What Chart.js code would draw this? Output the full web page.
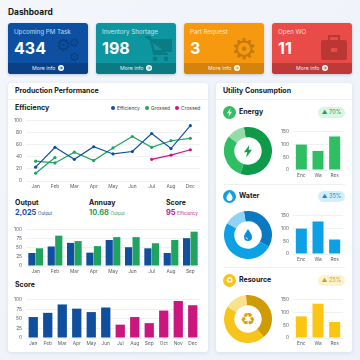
<!DOCTYPE html>
<html>
<head>
<meta charset="utf-8">
<script src="https://cdn.jsdelivr.net/npm/chart.js@4"></script>
<style>
    html, body { margin: 0; padding: 0; }
    body { width: 360px; height: 360px; overflow: hidden; position: relative; background: linear-gradient(135deg, #f3f6fb, #edf1f9); font-family: Inter, "Noto Sans", sans-serif; color: #15171c; }
    .abs, canvas { position: absolute; }
    .title { left: 8px; top: 6px; font-size: 8.4px; font-weight: 700; line-height: 12px; }
    .kpi { position: absolute; top: 23px; width: 80px; height: 51px; border-radius: 3px; overflow: hidden; color: #fff; box-shadow: 0 1px 3px rgba(40, 60, 90, .25); }
    .kpi .name { position: absolute; left: 6px; top: 4px; font-size: 6.2px; line-height: 10px; opacity: .75; white-space: nowrap; }
    .kpi .num { position: absolute; left: 6px; top: 15px; font-size: 16px; font-weight: 700; line-height: 20px; }
    .kpi .foot { position: absolute; left: 0; right: 0; bottom: 0; height: 11px; font-size: 5.2px; line-height: 11px; text-align: center; color: #e8eef4; }
    .kpi .foot svg { vertical-align: -1px; margin-left: 1px; }
    .kpi .icon { position: absolute; right: 4px; top: 11px; width: 28px; height: 28px; }
    .panel { position: absolute; top: 83px; height: 269px; background: #fff; border-radius: 3px; box-shadow: 0 1px 4px rgba(60, 80, 120, .12); }
    .head { position: absolute; left: 0; right: 0; top: 0; height: 16px; border-bottom: 1px solid #eef0f3; font-size: 7px; font-weight: 700; line-height: 16px; padding-left: 7px; }
    .label { position: absolute; font-weight: 700; font-size: 7px; line-height: 10px; white-space: nowrap; }
    .small { font-size: 4.4px; font-weight: 400; }
    .legend { position: absolute; left: 106px; top: 104px; font-size: 4.9px; line-height: 8px; color: #444; white-space: nowrap; }
    .legend i { display: inline-block; width: 4px; height: 4px; border-radius: 50%; margin: 0 2px 0 5px; vertical-align: 0; }
    .badge { position: absolute; left: 318px; width: 27px; height: 11px; border-radius: 6px; font-size: 5.6px; line-height: 11px; text-align: center; }
    .dot { position: absolute; left: 223px; width: 13px; height: 13px; border-radius: 50%; }
    .sep { position: absolute; left: 224px; width: 121px; height: 1px; background: #edf0f3; }
</style>
</head>
<body>
<div class="abs title">Dashboard</div>

<div class="kpi" style="left:8px;background:#0d50a2">
    <div class="name">Upcoming PM Task</div><div class="num">434</div>
    <svg class="icon" viewBox="0 0 28 28"><text x="0" y="17" font-size="17" fill="#0a3f80" font-family="DejaVu Sans">⚙</text><text x="13" y="13" font-size="12" fill="#0a3f80" font-family="DejaVu Sans">⚙</text><text x="13" y="27" font-size="12" fill="#0a3f80" font-family="DejaVu Sans">⚙</text></svg>
    <div class="foot" style="background:#0a4086">More info <svg width="6" height="6" viewBox="0 0 12 12"><circle cx="6" cy="6" r="6" fill="#fff"/><path d="M3 6h5M6 3l3 3-3 3" stroke="#0a4086" stroke-width="1.6" fill="none"/></svg></div>
</div>
<div class="kpi" style="left:96px;background:#0e96a0">
    <div class="name">Inventory Shortage</div><div class="num">198</div>
    <svg class="icon" viewBox="0 0 28 28"><path d="M1 3h5l4 17h14M7 6h20v11H10z" fill="#0a7c84" stroke="#0a7c84" stroke-width="2"/><circle cx="11" cy="25" r="2.4" fill="#0a7c84"/><circle cx="22" cy="25" r="2.4" fill="#0a7c84"/></svg>
    <div class="foot" style="background:#0b7a83">More info <svg width="6" height="6" viewBox="0 0 12 12"><circle cx="6" cy="6" r="6" fill="#fff"/><path d="M3 6h5M6 3l3 3-3 3" stroke="#0b7a83" stroke-width="1.6" fill="none"/></svg></div>
</div>
<div class="kpi" style="left:184px;background:#f7990f">
    <div class="name">Part Request</div><div class="num">3</div>
    <svg class="icon" viewBox="0 0 28 28"><text x="-1" y="25" font-size="29" fill="#c57a0a" font-family="DejaVu Sans">⚙</text></svg>
    <div class="foot" style="background:#d5830c">More info <svg width="6" height="6" viewBox="0 0 12 12"><circle cx="6" cy="6" r="6" fill="#fff"/><path d="M3 6h5M6 3l3 3-3 3" stroke="#d5830c" stroke-width="1.6" fill="none"/></svg></div>
</div>
<div class="kpi" style="left:272px;background:#e94b48">
    <div class="name">Open WO</div><div class="num">11</div>
    <svg class="icon" viewBox="0 0 28 28"><path d="M9 6V2h10v4" fill="none" stroke="#bb3735" stroke-width="2"/><rect x="1" y="6" width="26" height="20" rx="2" fill="#bb3735"/><rect x="11" y="14" width="6" height="4" fill="#e94b48"/></svg>
    <div class="foot" style="background:#bd3a38">More info <svg width="6" height="6" viewBox="0 0 12 12"><circle cx="6" cy="6" r="6" fill="#fff"/><path d="M3 6h5M6 3l3 3-3 3" stroke="#bd3a38" stroke-width="1.6" fill="none"/></svg></div>
</div>

<div class="panel" style="left:8px;width:200px"><div class="head">Production Performance</div></div>
<div class="panel" style="left:216px;width:136px"><div class="head">Utility Consumption</div></div>

<div class="label" style="left:15px;top:103px">Efficiency</div>
<div class="legend" id="lineLegend"></div>

<div class="label" style="left:15px;top:198px">Output</div>
<div class="label" style="left:89px;top:198px">Annuay</div>
<div class="label" style="left:166px;top:198px">Score</div>
<div class="label" style="left:15px;top:208px;font-size:7.4px;color:#17509c">2,025 <span class="small">Output</span></div>
<div class="label" style="left:89px;top:208px;font-size:7.4px;color:#1fa05c">10.68 <span class="small">Output</span></div>
<div class="label" style="left:166px;top:208px;font-size:7.4px;color:#c3177f">95 <span class="small">Efficiency</span></div>
<div class="label" style="left:15px;top:280px">Score</div>

<div class="dot" style="top:106px;background:#2fbf62"></div>
<svg class="abs" style="left:223px;top:106px" width="13" height="13" viewBox="0 0 13 13"><path d="M7.5 2 4 7.2h2.2L5.5 11 9 5.8H6.8z" fill="#fff"/></svg>
<div class="label" style="left:239px;top:107px">Energy</div>
<div class="badge" style="top:107px;background:#d9f5e3;color:#1f9d57">▲ 70%</div>
<svg class="abs" style="left:240px;top:143px" width="16" height="16" viewBox="0 0 24 24"><path d="M14 3 6 14h5l-2 8 9-12h-5z" fill="#12a04e"/></svg>
<div class="sep" style="top:184px"></div>

<div class="dot" style="top:190px;background:#0ea0e4"></div>
<svg class="abs" style="left:223px;top:190px" width="13" height="13" viewBox="0 0 13 13"><path d="M6.5 2C8 4.4 9.6 6 9.6 7.8a3.1 3.1 0 0 1-6.2 0C3.4 6 5 4.4 6.5 2z" fill="#fff"/></svg>
<div class="label" style="left:239px;top:191px">Water</div>
<div class="badge" style="top:191px;background:#d5eefb;color:#1d8cc8">▲ 35%</div>
<svg class="abs" style="left:240px;top:227px" width="16" height="16" viewBox="0 0 24 24"><path d="M12 3c3 5 6 8 6 12a6 6 0 0 1-12 0c0-4 3-7 6-12z" fill="#0d8fd6"/><path d="M9 15a3 3 0 0 0 3 3" stroke="#fff" fill="none"/></svg>
<div class="sep" style="top:267px"></div>

<div class="dot" style="top:274px;background:#f6c51b"></div>
<div class="abs" style="left:223px;top:274px;width:13px;height:13px;font:8px/13px 'DejaVu Sans';text-align:center;color:#fff">♻</div>
<div class="label" style="left:239px;top:275px">Resource</div>
<div class="badge" style="top:275px;background:#fdf2cc;color:#c9a227">▲ 25%</div>
<div class="abs" style="left:233px;top:304px;width:30px;height:30px;font:17px/30px 'DejaVu Sans';text-align:center;color:#d9a20f">♻</div>

<canvas id="effChart" style="left:5px;top:114px" width="200" height="78"></canvas>
<canvas id="outChart" style="left:5px;top:223px" width="200" height="54"></canvas>
<canvas id="scoreChart" style="left:5px;top:293px" width="200" height="56"></canvas>

<canvas id="energyDonut" style="left:224px;top:127px" width="48" height="48"></canvas>
<canvas id="waterDonut" style="left:224px;top:211px" width="48" height="48"></canvas>
<canvas id="resourceDonut" style="left:224px;top:295px" width="48" height="48"></canvas>

<canvas id="energyBars" style="left:271px;top:125px" width="74" height="56"></canvas>
<canvas id="waterBars" style="left:271px;top:209px" width="74" height="56"></canvas>
<canvas id="resourceBars" style="left:271px;top:293px" width="74" height="56"></canvas>

<script>
// datos
const lineMonths = ["Jan", "Feb", "Mar", "Apr", "May", "Jun", "Jul", "Aug", "Dec"];
const efficiency = [23, 56, 36, 57, 45, 49, 79, 54, 92];
const grossed = [33, 30, 48, 34, 55, 74, 56, 67, 71];
const grossedStart = [13, 39, null, null, null, null, null, null, null];
const crossed = [null, null, null, null, null, null, 36, 43, 52];

const outMonths = ["Jan", "Feb", "Mar", "Apr", "May", "Jun", "Jul", "Aug", "Sep"];
const outBlue = [36, 54, 64, 37, 72, 52, 49, 36, 77];
const outGreen = [49, 84, 69, 55, 80, 80, 63, 72, 95];

const scoreMonths = ["Jan", "Feb", "Mar", "Apr", "May", "Jun", "Jul", "Aug", "Sep", "Oct", "Nov", "Dec"];
const scoreValues = [55, 66, 88, 77, 68, 80, 35, 55, 39, 72, 97, 86];

const utilLabels = ["Enc", "Wa", "Res"];
const energyValues = [100, 75, 132];
const waterValues = [100, 128, 57];
const resourceValues = [85, 135, 63];

const energyShare = [58, 30, 12];
const waterShare = [36, 50, 14];
const resourceShare = [40, 45, 15];

const BLUE = "#0f4f9e";
const GREEN = "#1fa35f";
const PINK = "#cc167f";
const TICK = "#555b66";
const GRID = "#eef1f5";

Chart.defaults.font.family = "Inter, 'Noto Sans', sans-serif";
Chart.defaults.animation = false;
Chart.defaults.responsive = false;

const legendItems = [["Efficiency", BLUE], ["Grossed", GREEN], ["Crossed", PINK]];
document.getElementById("lineLegend").innerHTML = legendItems
    .map(item => `<i style="background:${item[1]}"></i>${item[0]}`).join("");

function axes(max, step, yWidth, font) {
    return {
        x: {
            offset: true,
            grid: { display: false, drawTicks: false },
            border: { display: false },
            ticks: { color: TICK, font: { size: font }, padding: 3, maxRotation: 0, autoSkip: false },
            afterFit: s => { s.height = 11; },
        },
        y: {
            min: 0,
            max: max,
            grid: { color: GRID, drawTicks: false },
            border: { display: false },
            ticks: { color: TICK, font: { size: font }, padding: 4, stepSize: step },
            afterFit: s => { s.width = yWidth; },
        },
    };
}

const baseOptions = {
    plugins: { legend: { display: false }, tooltip: { enabled: false } },
};

function lineSet(values, color) {
    return { data: values, borderColor: color, backgroundColor: color, borderWidth: 1.2, pointRadius: 1.6, pointBorderWidth: 0, tension: 0 };
}

new Chart(document.getElementById("effChart"), {
    type: "line",
    data: {
        labels: lineMonths,
        datasets: [lineSet(efficiency, BLUE), lineSet(grossed, GREEN), lineSet(grossedStart, GREEN), lineSet(crossed, PINK)],
    },
    options: { ...baseOptions, layout: { padding: { top: 4, right: 5, bottom: 0 } }, scales: axes(100, 20, 21, 4.8) },
});

new Chart(document.getElementById("outChart"), {
    type: "bar",
    data: {
        labels: outMonths,
        datasets: [
            { data: outBlue, backgroundColor: BLUE, barPercentage: 0.95, categoryPercentage: 0.78 },
            { data: outGreen, backgroundColor: GREEN, barPercentage: 0.95, categoryPercentage: 0.78 },
        ],
    },
    options: { ...baseOptions, layout: { padding: { top: 4, right: 5 } }, scales: axes(100, 25, 21, 4.8) },
});

const scoreColors = scoreValues.map((v, i) => (i < 6 ? BLUE : PINK));
new Chart(document.getElementById("scoreChart"), {
    type: "bar",
    data: {
        labels: scoreMonths,
        datasets: [{ data: scoreValues, backgroundColor: scoreColors, barPercentage: 1, categoryPercentage: 0.64 }],
    },
    options: { ...baseOptions, layout: { padding: { top: 4, right: 5 } }, scales: axes(100, 25, 21, 4.8) },
});

function donut(id, values, colors, rotation) {
    new Chart(document.getElementById(id), {
        type: "doughnut",
        data: { datasets: [{ data: values, backgroundColor: colors, borderWidth: 0 }] },
        options: { ...baseOptions, cutout: "57%", rotation: rotation },
    });
}

donut("energyDonut", energyShare, ["#0f9a4a", "#2fbf62", "#93dca9"], -10);
donut("waterDonut", waterShare, ["#0b78c2", "#0ea0e4", "#8fd3f4"], -10);
donut("resourceDonut", resourceShare, ["#cf9c08", "#f6c51b", "#fae28a"], -5);

function utilBars(id, values, color) {
    new Chart(document.getElementById(id), {
        type: "bar",
        data: {
            labels: utilLabels,
            datasets: [{ data: values, backgroundColor: color, barPercentage: 1, categoryPercentage: 0.66 }],
        },
        options: { ...baseOptions, layout: { padding: { top: 4, right: 2 } }, scales: axes(150, 50, 22, 4.8) },
    });
}

utilBars("energyBars", energyValues, "#2fbf62");
utilBars("waterBars", waterValues, "#0ea0e4");
utilBars("resourceBars", resourceValues, "#fbc514");
</script>
</body>
</html>
